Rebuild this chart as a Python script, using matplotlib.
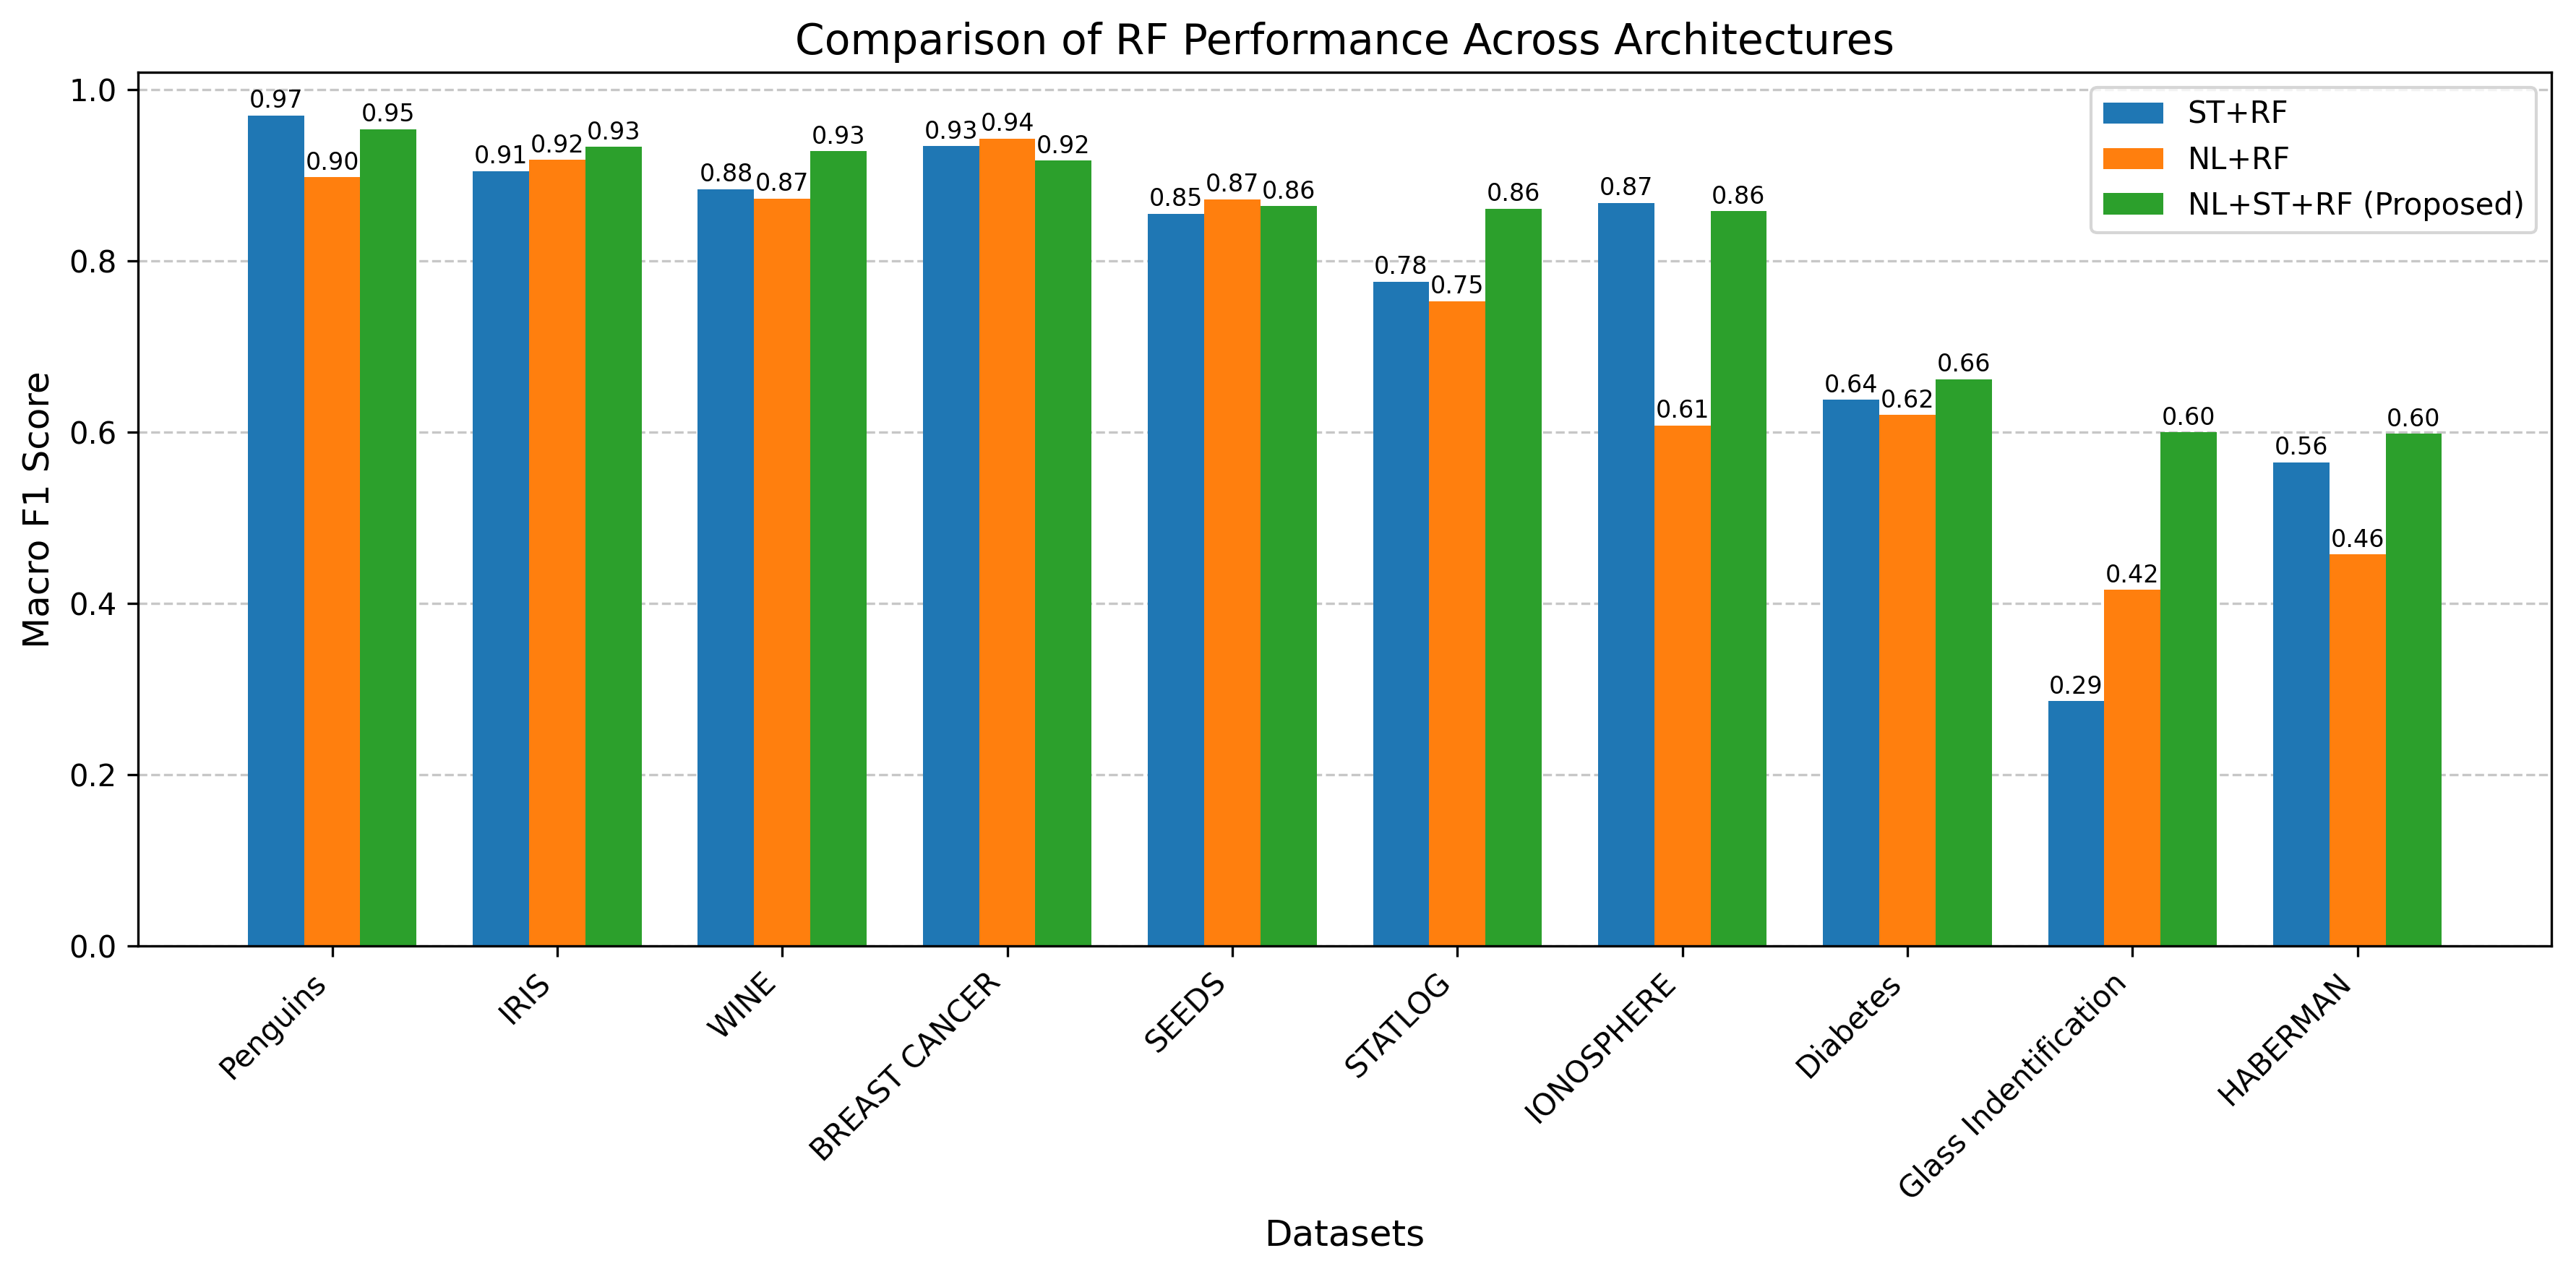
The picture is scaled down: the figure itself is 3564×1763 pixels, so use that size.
import matplotlib.pyplot as plt
import numpy as np

datasets = ['Penguins', 'IRIS', 'WINE', 'BREAST CANCER', 'SEEDS', 'STATLOG',
            'IONOSPHERE', 'Diabetes', 'Glass Indentification', 'HABERMAN']
st_rf = [0.970, 0.905, 0.884, 0.934, 0.855, 0.776, 0.868, 0.638, 0.286, 0.565]
nl_rf = [0.898, 0.918, 0.873, 0.943, 0.872, 0.753, 0.608, 0.620, 0.416, 0.457]
nl_st_rf = [0.954, 0.933, 0.928, 0.917, 0.864, 0.861, 0.858, 0.662, 0.600, 0.598]

fig, ax = plt.subplots(figsize=(11.88, 5.877), dpi=300)
fig.subplots_adjust(left=0.0536, right=0.9905, top=0.943, bottom=0.2575)

x = np.arange(len(datasets))
w = 0.25
series = [(st_rf, 'ST+RF', '#1f77b4'),
          (nl_rf, 'NL+RF', '#ff7f0e'),
          (nl_st_rf, 'NL+ST+RF (Proposed)', '#2ca02c')]

for i, (vals, label, color) in enumerate(series):
    bars = ax.bar(x + (i - 1) * w, vals, w, label=label, color=color)
    for b, v in zip(bars, vals):
        ax.text(b.get_x() + b.get_width() / 2, v + 0.003, f'{v:.2f}',
                ha='center', va='bottom', fontsize=8)

ax.set_xticks(x)
ax.set_xticklabels(datasets, rotation=45, ha='right')
ax.set_xlabel('Datasets', fontsize=12)
ax.set_ylabel('Macro F1 Score', fontsize=12)
ax.set_title('Comparison of RF Performance Across Architectures', fontsize=14)
ax.set_ylim(0, 1.02)
ax.yaxis.grid(True, linestyle='--', alpha=0.7)
ax.set_axisbelow(True)
ax.legend(loc='upper right')

fig.savefig('out.png', dpi=300)
